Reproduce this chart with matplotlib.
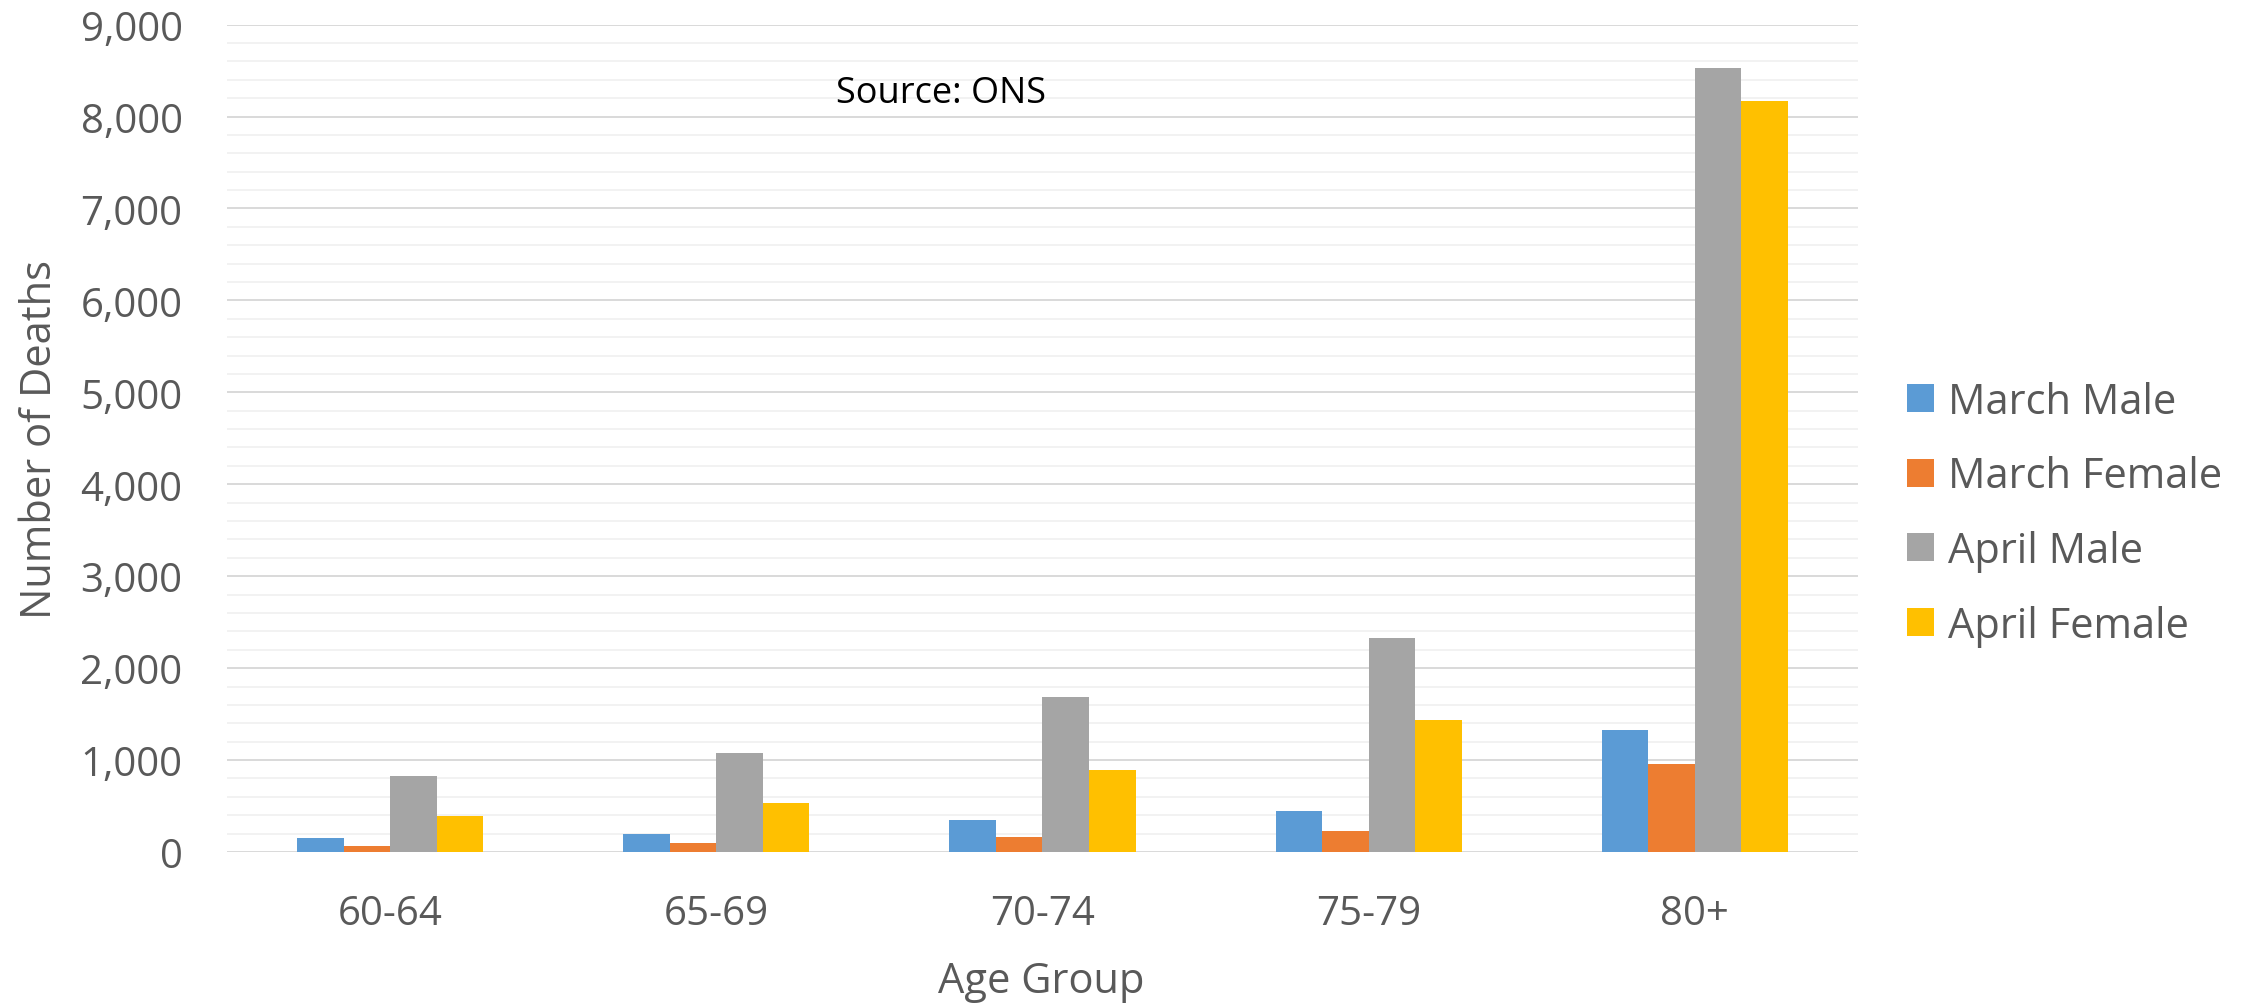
import numpy as np
from matplotlib import pyplot as plt
from matplotlib.ticker import MultipleLocator, FuncFormatter

ageGroups = ['60-64', '65-69', '70-74', '75-79', '80+']
seriesNames = ['March Male', 'March Female', 'April Male', 'April Female']
marchMale = [150, 198, 346, 441, 1330]
marchFemale = [70, 103, 161, 230, 952]
aprilMale = [825, 1075, 1681, 2331, 8533]
aprilFemale = [397, 528, 887, 1434, 8170]
colours = ['#5B9BD5', '#ED7D31', '#A5A5A5', '#FFC000']

plt.rcParams['font.family'] = ['Open Sans', 'DejaVu Sans']
textColour = '#595959'

fig = plt.figure(figsize=(22.52, 10.04), dpi=100)
ax = fig.add_axes([0.1008, 0.1504, 0.7242, 0.8241])

x = np.arange(len(ageGroups))
width = 0.571 / 4
allSeries = [marchMale, marchFemale, aprilMale, aprilFemale]
for i, values in enumerate(allSeries):
    ax.bar(x + (i - 1.5) * width, values, width, color=colours[i], label=seriesNames[i], zorder=3)

ax.set_xlim(-0.5, len(ageGroups) - 0.5)
ax.set_ylim(0, 9000)
ax.yaxis.set_major_locator(MultipleLocator(1000))
ax.yaxis.set_minor_locator(MultipleLocator(200))
ax.yaxis.set_major_formatter(FuncFormatter(lambda v, p: '{:,.0f}'.format(v)))
ax.grid(which='minor', axis='y', color='#F2F2F2', linewidth=1.4, zorder=0)
ax.grid(which='major', axis='y', color='#D9D9D9', linewidth=1.4, zorder=1)
for s in ax.spines.values():
    s.set_visible(False)

ax.set_xticks(x)
ax.set_xticklabels(ageGroups)
ax.tick_params(axis='both', which='both', length=0, labelsize=29, colors=textColour)
ax.tick_params(axis='x', pad=30)
ax.tick_params(axis='y', pad=32)

ax.set_xlabel('Age Group', fontsize=30, color=textColour)
ax.xaxis.set_label_coords(0.4995, -0.13)
ax.set_ylabel('Number of Deaths', fontsize=30, color=textColour)
ax.yaxis.set_label_coords(-0.102, 0.5)

fig.text(941 / 2252, 1 - 94 / 1004, 'Source: ONS', fontsize=26, color='black', ha='center', va='center')

fig.legend(loc='upper left', bbox_to_anchor=(1907 / 2252, 1 - 382 / 1004), frameon=False,
           fontsize=30, labelcolor=textColour, handlelength=0.65, handleheight=0.65,
           handletextpad=0.34, labelspacing=0.78, borderpad=0, borderaxespad=0)

fig.savefig('out.png', dpi=100, facecolor='white')
